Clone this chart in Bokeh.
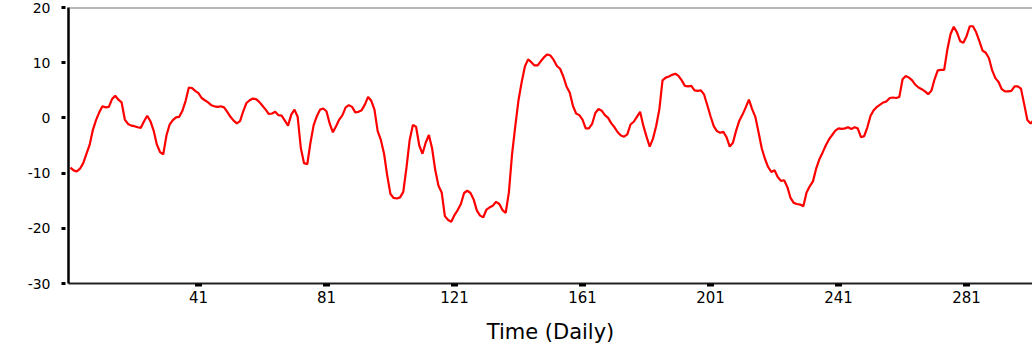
from bokeh.plotting import figure
from bokeh.models import FixedTicker, Range1d, Span
from bokeh.embed import file_html
from bokeh.resources import INLINE

days = list(range(1, 303))
values = [
    -9.0, -9.5, -9.7, -9.2, -8.2, -6.5, -4.9, -2.2, -0.4, 1.0,
    2.1, 1.9, 2.0, 3.4, 4.0, 3.3, 2.8, -0.3, -1.1, -1.4,
    -1.5, -1.7, -1.8, -0.6, 0.4, -0.6, -2.3, -4.8, -6.2, -6.6,
    -3.2, -1.2, -0.4, 0.1, 0.2, 1.3, 3.1, 5.5, 5.4, 4.9,
    4.5, 3.6, 3.2, 2.8, 2.3, 2.1, 2.0, 2.1, 1.9, 1.1,
    0.2, -0.5, -1.0, -0.6, 1.2, 2.7, 3.2, 3.5, 3.4, 2.9,
    2.2, 1.5, 0.7, 0.8, 1.1, 0.5, 0.4, -0.5, -1.4, 0.6,
    1.5, 0.2, -5.5, -8.2, -8.4, -4.5, -1.3, 0.3, 1.5, 1.7,
    1.2, -1.0, -2.6, -1.5, -0.3, 0.5, 1.9, 2.3, 2.0, 1.0,
    1.1, 1.4, 2.4, 3.8, 3.1, 1.5, -2.4, -4.0, -6.5, -10.5,
    -13.8, -14.5, -14.6, -14.4, -13.4, -9.0, -4.0, -1.3, -1.6, -5.0,
    -6.5, -4.5, -3.1, -5.5, -9.5, -12.3, -13.5, -17.8, -18.5, -18.8,
    -17.6, -16.7, -15.6, -13.6, -13.2, -13.6, -14.8, -16.8, -17.7, -18.0,
    -16.6, -16.2, -15.9, -15.2, -15.6, -16.7, -17.2, -13.5, -6.5, -1.5,
    3.2, 6.5, 9.3, 10.6, 10.1, 9.5, 9.5, 10.3, 11.0, 11.5,
    11.3, 10.5, 9.4, 8.9, 7.5, 5.7, 4.6, 2.2, 0.8, 0.5,
    -0.3, -1.9, -1.9, -1.1, 0.9, 1.6, 1.3, 0.5, 0.0, -1.0,
    -1.7, -2.6, -3.2, -3.4, -3.0, -1.2, -0.7, 0.2, 1.1, -1.4,
    -3.4, -5.2, -3.8, -1.5, 1.5, 6.8, 7.3, 7.5, 7.8, 8.0,
    7.6, 6.8, 5.8, 5.7, 5.8, 5.0, 4.9, 5.0, 4.2, 2.3,
    0.3, -1.5, -2.4, -2.7, -2.5, -3.5, -5.2, -4.5, -2.3, -0.5,
    0.6, 1.9, 3.3, 1.6, 0.2, -2.6, -5.5, -7.4, -8.9, -9.8,
    -9.5, -10.7, -11.4, -11.3, -12.5, -14.5, -15.4, -15.6, -15.7, -16.0,
    -13.5, -12.4, -11.5, -9.2, -7.5, -6.3, -5.0, -3.9, -3.1, -2.3,
    -1.9, -2.0, -1.9, -1.7, -2.0, -1.7, -1.9, -3.5, -3.3, -1.7,
    0.4, 1.4, 2.0, 2.4, 2.8, 3.0, 3.6, 3.7, 3.6, 3.8,
    7.0, 7.6, 7.3, 6.8, 6.0, 5.5, 5.2, 4.8, 4.3, 4.9,
    7.0, 8.6, 8.7, 8.7, 12.4, 15.2, 16.5, 15.5, 13.9, 13.6,
    14.8, 16.6, 16.6, 15.5, 13.9, 12.2, 11.8, 10.8, 8.6, 7.2,
    6.5, 5.2, 4.8, 4.8, 4.9, 5.7, 5.7, 5.3, 2.5, -0.4,
    -1.0, -0.4,
]

y_ticks = [-30, -20, -10, 0, 10, 20]
y_tick_labels = ["-30", "-20", "-10", "0", "10", "20"]
x_ticks = [41, 81, 121, 161, 201, 241, 281]
x_tick_labels = ["41", "81", "121", "161", "201", "241", "281"]
x_title = "Time (Daily)"

p = figure(width=1032, height=352, output_backend="svg", toolbar_location=None,
           x_range=Range1d(0.4, 301.6), y_range=Range1d(-30, 20),
           min_border_left=68, min_border_right=0, min_border_top=7,
           min_border_bottom=69)
p.outline_line_color = None
p.grid.visible = False
p.background_fill_color = "white"
p.border_fill_color = "white"

p.line(days, values, line_color="#ff0000", line_width=2.2)

p.add_layout(Span(location=20, dimension="width", line_color="#707070", line_width=2))

# y axis
ya = p.yaxis[0]
ya.ticker = FixedTicker(ticks=y_ticks)
ya.major_label_overrides = {t: s for t, s in zip(y_ticks, y_tick_labels)}
ya.axis_line_color = "black"
ya.axis_line_width = 2.5
ya.major_tick_line_color = "black"
ya.major_tick_line_width = 3
ya.major_tick_in = -3
ya.major_tick_out = 7
ya.minor_tick_line_color = None
ya.major_label_standoff = 11
ya.major_label_text_font = "DejaVu Sans"
ya.major_label_text_font_size = "14px"
ya.major_label_text_color = "black"

# x axis
xa = p.xaxis[0]
xa.ticker = FixedTicker(ticks=x_ticks)
xa.major_label_overrides = {t: s for t, s in zip(x_ticks, x_tick_labels)}
xa.axis_line_color = "#222222"
xa.axis_line_width = 2
xa.major_tick_line_color = "black"
xa.major_tick_line_width = 7
xa.major_tick_line_cap = "butt"
xa.major_tick_in = 0
xa.major_tick_out = 3
xa.minor_tick_line_color = None
xa.major_label_standoff = 4
xa.major_label_text_font = "DejaVu Sans"
xa.major_label_text_font_size = "15px"
xa.major_label_text_color = "black"
xa.axis_label = x_title
xa.axis_label_text_font = "DejaVu Sans"
xa.axis_label_text_font_size = "21px"
xa.axis_label_text_font_style = "normal"
xa.axis_label_text_color = "black"
xa.axis_label_standoff = 14

open("out.html", "w").write(file_html(p, INLINE))
